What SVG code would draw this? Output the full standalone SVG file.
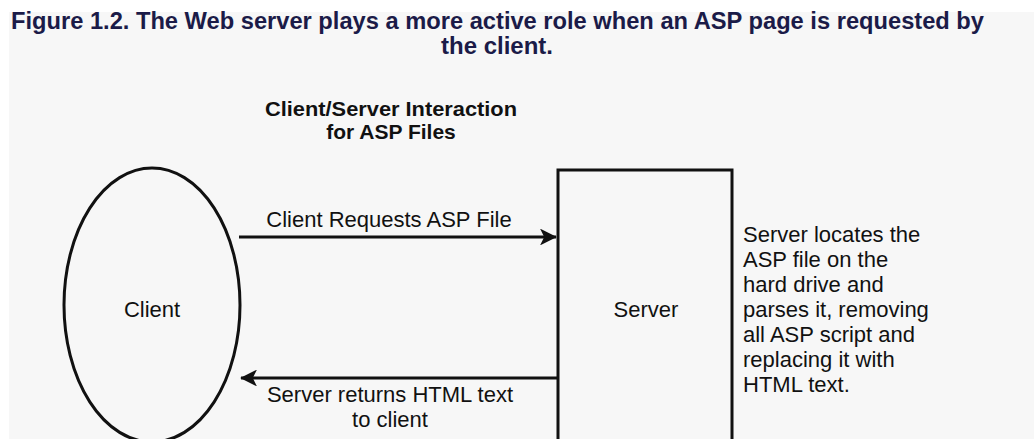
<svg xmlns="http://www.w3.org/2000/svg" width="1034" height="439" viewBox="0 0 1034 439">
  <defs>
    <marker id="arrow" viewBox="0 0 10 10" refX="9.5" refY="5" markerWidth="7.3" markerHeight="5.6" markerUnits="strokeWidth" orient="auto">
      <path d="M0,0 L10,5 L0,10 L2.5,5 Z" fill="#111"/>
    </marker>
    <style>
      .caption { font-family: "Liberation Sans", Arial, sans-serif; font-weight: bold; font-size: 23px; fill: #1b1b48; }
      .heading { font-family: "Liberation Sans", Arial, sans-serif; font-weight: bold; font-size: 21px; fill: #111; }
      .label { font-family: "Liberation Sans", Arial, sans-serif; font-size: 22px; fill: #111; }
      .shape { fill: none; stroke: #111; stroke-width: 3; }
      .link { fill: none; stroke: #111; stroke-width: 3; marker-end: url(#arrow); }
    </style>
  </defs>

  <!-- page background -->
  <rect x="0" y="0" width="1034" height="439" fill="#ffffff"/>
  <rect x="9" y="12" width="1025" height="427" fill="#f7f7f7"/>

  <!-- caption -->
  <g id="caption">
    <text class="caption" x="11" y="29" textLength="973" lengthAdjust="spacingAndGlyphs">Figure 1.2. The Web server plays a more active role when an ASP page is requested by</text>
    <text class="caption" x="497" y="54" text-anchor="middle" textLength="112" lengthAdjust="spacingAndGlyphs">the client.</text>
  </g>

  <!-- diagram heading -->
  <g id="heading">
    <text class="heading" x="391" y="116" text-anchor="middle" textLength="252" lengthAdjust="spacingAndGlyphs">Client/Server Interaction</text>
    <text class="heading" x="391" y="139" text-anchor="middle">for ASP Files</text>
  </g>

  <!-- client node -->
  <g id="client">
    <ellipse class="shape" cx="152" cy="305" rx="88" ry="137"/>
    <text class="label" x="152" y="317" text-anchor="middle">Client</text>
  </g>

  <!-- server node -->
  <g id="server">
    <rect class="shape" x="558" y="170" width="174" height="290"/>
    <text class="label" x="646" y="317" text-anchor="middle">Server</text>
  </g>

  <!-- server-side processing note -->
  <g id="note">
    <text class="label" x="743" y="242">Server locates the</text>
    <text class="label" x="743" y="267">ASP file on the</text>
    <text class="label" x="743" y="292">hard drive and</text>
    <text class="label" x="743" y="317">parses it, removing</text>
    <text class="label" x="743" y="342">all ASP script and</text>
    <text class="label" x="743" y="367">replacing it with</text>
    <text class="label" x="743" y="392">HTML text.</text>
  </g>

  <!-- request / response connectors -->
  <g id="connectors">
    <line class="link" x1="239" y1="237" x2="556" y2="237"/>
    <text class="label" x="389" y="227" text-anchor="middle">Client Requests ASP File</text>
    <line class="link" x1="557" y1="378" x2="241" y2="378"/>
    <text class="label" x="390" y="402" text-anchor="middle">Server returns HTML text</text>
    <text class="label" x="390" y="427" text-anchor="middle">to client</text>
  </g>
</svg>
